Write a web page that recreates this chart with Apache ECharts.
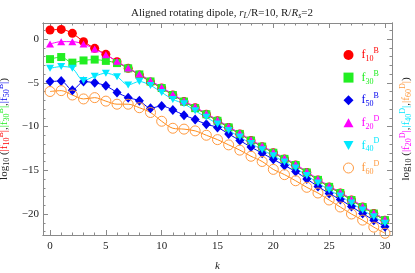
<!DOCTYPE html>
<html><head><meta charset="utf-8">
<script src="https://cdn.jsdelivr.net/npm/echarts@6/dist/echarts.min.js"></script>
<style>html,body{margin:0;padding:0;background:#fff}#c{width:415px;height:273px}</style>
</head><body><div id="c"></div>
<script>
// ---- data ----
const kValues = [0,1,2,3,4,5,6,7,8,9,10,11,12,13,14,15,16,17,18,19,20,21,22,23,24,25,26,27,28,29,30];
const f10B = [1.03,1.1,0.65,-0.3,-1.07,-1.75,-2.6,-3.35,-4.1,-4.9,-5.6,-6.4,-7.15,-7.85,-8.6,-9.35,-10.1,-10.85,-11.6,-12.3,-13.0,-13.7,-14.4,-15.25,-16.1,-16.9,-17.6,-18.4,-19.2,-19.95,-20.7];
const f30B = [-2.3,-2.06,-2.7,-2.45,-2.35,-2.5,-2.75,-3.35,-4.05,-4.85,-5.6,-6.4,-7.15,-7.9,-8.6,-9.35,-10.1,-10.85,-11.6,-12.3,-13.0,-13.7,-14.4,-15.25,-16.1,-16.9,-17.6,-18.4,-19.2,-19.95,-20.7];
const f50B = [-4.87,-4.8,-5.85,-4.87,-5.0,-5.35,-6.1,-6.7,-7.05,-7.9,-7.65,-8.1,-8.7,-9.2,-9.75,-10.1,-10.85,-11.6,-12.35,-13.05,-13.75,-14.45,-15.15,-16.0,-16.85,-17.65,-18.35,-19.15,-19.95,-20.7,-21.45];
const f20D = [-0.57,-0.3,-0.3,-0.57,-1.15,-1.8,-2.55,-3.3,-4.0,-4.75,-5.5,-6.3,-7.05,-7.75,-8.5,-9.25,-10.0,-10.75,-11.5,-12.2,-12.9,-13.6,-14.3,-15.15,-16.0,-16.8,-17.5,-18.3,-19.1,-19.85,-20.6];
const f40D = [-3.35,-3.15,-3.35,-4.75,-4.25,-3.9,-4.3,-5.25,-4.85,-5.3,-6.1,-6.9,-7.4,-8.2,-8.95,-9.7,-10.45,-11.2,-11.95,-12.65,-13.35,-14.05,-14.75,-15.6,-16.45,-17.25,-17.95,-18.75,-19.55,-20.3,-21.05];
const f60D = [-6.0,-5.9,-6.4,-6.85,-6.7,-7.1,-7.45,-7.45,-7.85,-8.4,-9.4,-10.2,-10.3,-10.5,-11.0,-11.5,-12.1,-12.7,-13.4,-14.0,-14.9,-15.5,-16.2,-16.95,-17.6,-18.4,-19.2,-20.0,-20.7,-21.5,-22.2];
const xMajorTicks = [0,5,10,15,20,25,30];
const xMinorTicks = kValues;
const yMajorTicks = [-20,-15,-10,-5,0];
const yMinorTicks = [-22,-21,-20,-19,-18,-17,-16,-15,-14,-13,-12,-11,-10,-9,-8,-7,-6,-5,-4,-3,-2,-1,0,1];

// ---- styles ----
const SERIF = '"Liberation Serif","DejaVu Serif",serif';
const FRAME = '#8a8a8a';
const COL = {r:'#ff0000', g:'#22ee22', b:'#0000ee', m:'#ff00ff', c:'#00e8ff', o:'#ff9a40', k:'#222'};
const OLINE = '#ff8c1a';

function richSet(size, sub, lh){
  const r = {};
  for (const key in COL){
    r[key] = {color:COL[key], fontFamily:SERIF, fontSize:size, fontWeight:'normal', lineHeight:lh, verticalAlign:'middle'};
    r[key+'s'] = {color:COL[key], fontFamily:SERIF, fontSize:sub, fontWeight:'normal', lineHeight:sub, verticalAlign:'bottom'};
    r[key+'p'] = {color:COL[key], fontFamily:SERIF, fontSize:sub, fontWeight:'normal', lineHeight:sub, verticalAlign:'top'};
    r[key+'f'] = {color:COL[key], fontFamily:SERIF, fontSize:size, fontWeight:'normal', lineHeight:lh, verticalAlign:'middle', padding:[0,0,0,3]};
  }
  return r;
}

const pairs = arr => kValues.map((k,i)=>[k, arr[i]]);
const downTri = 'path://M0,0L10,0L5,9Z';
const upTri = 'path://M5,0L10,9L0,9Z';

const seriesDefs = [
  {name:'f10B', data:f10B, color:COL.r, symbol:'circle', size:9, sub:'10', sup:'B', key:'r'},
  {name:'f30B', data:f30B, color:COL.g, symbol:'rect', size:8, sub:'30', sup:'B', key:'g'},
  {name:'f50B', data:f50B, color:COL.b, symbol:'diamond', size:[9,10], sub:'50', sup:'B', key:'b'},
  {name:'f20D', data:f20D, color:COL.m, symbol:upTri, size:[8,7], sub:'20', sup:'D', key:'m'},
  {name:'f40D', data:f40D, color:COL.c, symbol:downTri, size:[8,7], sub:'40', sup:'D', key:'c'},
  {name:'f60D', data:f60D, color:COL.o, symbol:'circle', size:10, sub:'60', sup:'D', key:'o', hollow:true}
];

const series = seriesDefs.map(d => ({
  name:d.name, type:'line', data:pairs(d.data), smooth:0.3,
  symbol:d.symbol, symbolSize:d.size, showSymbol:true,
  lineStyle:{color: d.hollow ? OLINE : d.color, width:1},
  itemStyle: d.hollow ? {color:'rgba(0,0,0,0)', borderColor:d.color, borderWidth:1} : {color:d.color, borderWidth:0},
  emphasis:{disabled:true}, animation:false
}));

const legendRich = richSet(12, 8, 16);
const legend = {
  orient:'vertical', left:338, top:42, itemWidth:10, itemHeight:10, itemGap:6.6,
  selectedMode:false,
  data: seriesDefs.map(d => ({name:d.name, icon: d.symbol, itemStyle: d.hollow ? {color:'rgba(0,0,0,0)', borderColor:d.color, borderWidth:1} : {color:d.color}})),
  formatter: name => { const d = seriesDefs.find(s=>s.name===name); return '{'+d.key+'f|f}{'+d.key+'s|'+d.sub+'}{'+d.key+'p|'+d.sup+'}'; },
  textStyle:{rich:legendRich}
};

const nameRich = richSet(11, 8, 14);
const leftName = '{k|log}{ks|10}{k| (}{r||f}{rs|10}{rp|B}{r||}{k|,}{g||f}{gs|30}{gp|B}{g||}{k|,}{b||f}{bs|50}{bp|B}{b||}{k|)}';
const rightName = '{k|log}{ks|10}{k| (}{m||f}{ms|20}{mp|D}{m||}{k|,}{c||f}{cs|40}{cp|D}{c||}{k|,}{o||f}{os|60}{op|D}{o||}{k|)}';

const minus = v => String(v).replace('-', '\u2212');
const X0 = -0.63, X1 = 30.63, Y0 = -22.4, Y1 = 1.83;

function xAx(pos, ticks, len, labels, extra){
  return Object.assign({type:'value', position:pos, min:X0, max:X1,
    axisLine:{show:true, onZero:false, lineStyle:{color:FRAME, width:1}},
    axisTick:{show:true, inside:true, length:len, customValues:ticks, lineStyle:{color:FRAME}},
    axisLabel:{show:labels, customValues:ticks, formatter:minus, color:'#222', fontFamily:SERIF, fontSize:11, margin:6},
    splitLine:{show:false}}, extra||{});
}
function yAx(pos, ticks, len, labels, extra){
  return Object.assign({type:'value', position:pos, min:Y0, max:Y1,
    axisLine:{show:true, onZero:false, lineStyle:{color:FRAME, width:1}},
    axisTick:{show:true, inside:true, length:len, customValues:ticks, lineStyle:{color:FRAME}},
    axisLabel:{show:labels, customValues:ticks, formatter:minus, color:'#222', fontFamily:SERIF, fontSize:11, margin:4},
    splitLine:{show:false}}, extra||{});
}

const option = {
  animation:false,
  backgroundColor:'#fff',
  title:{text:'{t|Aligned rotating dipole, }{i|r}{is|L}{t|/R=10, R/}{i|R}{is|s}{t|=2}', left:217, top:1, textAlign:'center',
    textStyle:{fontWeight:'normal', rich:{
      t:{fontFamily:SERIF, fontSize:11, fontWeight:'normal', color:'#222', lineHeight:14, verticalAlign:'middle'},
      i:{fontFamily:SERIF, fontSize:11, fontWeight:'normal', color:'#222', fontStyle:'italic', lineHeight:14, verticalAlign:'middle'},
      is:{fontFamily:SERIF, fontSize:8, fontWeight:'normal', color:'#222', fontStyle:'italic', lineHeight:8, verticalAlign:'bottom'}
    }}},
  grid:{left:43, right:23, top:23, bottom:38, containLabel:false, outerBoundsMode:'none'},
  legend: legend,
  xAxis:[
    xAx('bottom', xMajorTicks, 5, true, {name:'k', nameLocation:'middle', nameGap:26, nameTextStyle:{fontFamily:SERIF, fontSize:11, fontStyle:'italic', color:'#222'}}),
    xAx('bottom', xMinorTicks, 2.5, false),
    xAx('top', xMajorTicks, 5, false),
    xAx('top', xMinorTicks, 2.5, false)
  ],
  yAxis:[
    yAx('left', yMajorTicks, 5, true, {name:leftName, nameLocation:'middle', nameRotate:90, nameGap:32, nameTextStyle:{rich:nameRich}}),
    yAx('left', yMinorTicks, 2.5, false),
    yAx('right', yMajorTicks, 5, false, {name:rightName, nameLocation:'middle', nameRotate:90, nameGap:7, nameTextStyle:{rich:nameRich}}),
    yAx('right', yMinorTicks, 2.5, false)
  ],
  series: series
};
const chart = echarts.init(document.getElementById('c'), null, {renderer:'canvas'});
chart.setOption(option);
</script>
</body></html>
